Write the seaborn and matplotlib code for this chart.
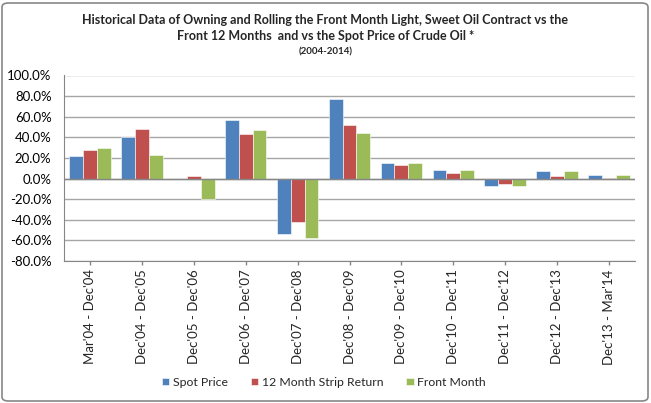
import pandas as pd
import matplotlib.pyplot as plt
import seaborn as sns
from matplotlib.patches import FancyBboxPatch
from matplotlib.ticker import FuncFormatter

# periods on the x axis
periods = ["Mar'04 - Dec'04", "Dec'04 - Dec'05", "Dec'05 - Dec'06", "Dec'06 - Dec'07",
           "Dec'07 - Dec'08", "Dec'08 - Dec'09", "Dec'09 - Dec'10", "Dec'10 - Dec'11",
           "Dec'11 - Dec'12", "Dec'12 - Dec'13", "Dec'13 - Mar'14"]

# returns in percent
spot_price = [21.5, 40.0, 0.0, 57.0, -53.5, 77.5, 15.0, 8.0, -7.0, 7.0, 3.0]
strip_return = [28.0, 48.0, 2.5, 43.5, -42.0, 51.5, 13.5, 5.0, -5.5, 2.5, 1.0]
front_month = [29.5, 23.0, -20.0, 47.0, -58.0, 44.5, 15.0, 8.0, -7.0, 7.0, 3.0]

series_names = ["Spot Price", "12 Month Strip Return", "Front Month"]
colors = ["#4F81BD", "#C0504D", "#9BBB59"]

df = pd.DataFrame({
    "period": periods * 3,
    "series": [series_names[0]] * 11 + [series_names[1]] * 11 + [series_names[2]] * 11,
    "value": spot_price + strip_return + front_month,
})

sns.set_style("white")
plt.rcParams['font.family'] = ['Lato', 'DejaVu Sans']

fig = plt.figure(figsize=(6.51, 4.03), dpi=100)
ax = fig.add_axes([64 / 651, 1 - 261 / 403, (635 - 64) / 651, (261 - 75.5) / 403])

sns.barplot(data=df, x="period", y="value", hue="series", palette=colors,
            width=0.8, saturation=1, edgecolor="white", linewidth=0.4, ax=ax)

ax.set_ylim(-80, 100)
ax.set_yticks(range(-80, 101, 20))
ax.yaxis.set_major_formatter(FuncFormatter(lambda v, p: f"{v:.1f}%"))
ax.yaxis.grid(True, color="#A6A6A6", linewidth=1.0)
ax.set_axisbelow(True)
ax.set_xlim(-0.5, 10.5)
ax.set_xlabel("")
ax.set_ylabel("")

for s in ["top", "right"]:
    ax.spines[s].set_visible(False)
ax.spines["left"].set_color("#868686")
ax.spines["bottom"].set_color("#868686")
ax.axhline(0, color="#868686", linewidth=1.0, zorder=1)

ax.tick_params(axis="y", labelsize=9.5, length=0, pad=9, labelcolor="black")
ax.tick_params(axis="x", labelsize=9.5, length=3, width=1, color="#868686",
               pad=3, labelrotation=90, bottom=True)
for lbl in ax.get_xticklabels():
    lbl.set_verticalalignment("top")

ax.legend(loc="upper center", bbox_to_anchor=(0.455, -0.565), ncol=3, frameon=False,
          fontsize=8.8, handlelength=0.6, handleheight=0.6, handletextpad=0.3,
          columnspacing=1.9)

fig.text(0.5, 1 - 20.5 / 403, "Historical Data of Owning and Rolling the Front Month Light, Sweet Oil Contract vs the",
         ha="center", va="center", fontsize=9, fontweight="bold")
fig.text(0.5, 1 - 36 / 403, "Front 12 Months  and vs the Spot Price of Crude Oil *",
         ha="center", va="center", fontsize=9, fontweight="bold")
fig.text(0.5, 1 - 52 / 403, "(2004-2014)", ha="center", va="center",
         fontsize=7, fontweight="bold")

border = FancyBboxPatch((2 / 651, 2 / 403), 646 / 651, 398 / 403,
                        boxstyle="round,pad=0,rounding_size=0.01",
                        transform=fig.transFigure, fill=False,
                        edgecolor="#878787", linewidth=1.2)
fig.patches.append(border)

fig.savefig("out.png", dpi=100)
